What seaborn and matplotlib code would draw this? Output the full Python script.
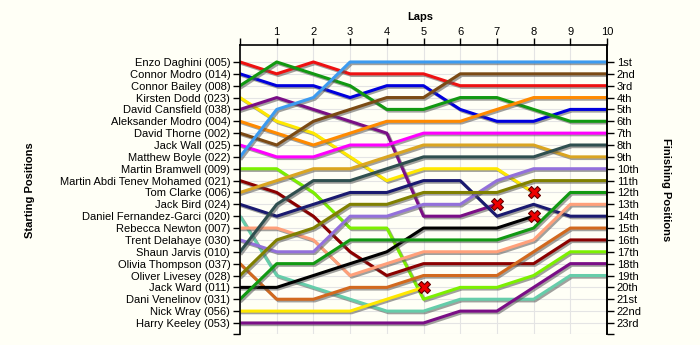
import matplotlib
matplotlib.use("Agg")
import matplotlib.pyplot as plt
import matplotlib.patheffects as pe
import numpy as np
import pandas as pd
import seaborn as sns

riders = ["Enzo Daghini (005)", "Connor Modro (014)", "Connor Bailey (008)",
          "Kirsten Dodd (023)", "David Cansfield (038)", "Aleksander Modro (004)",
          "David Thorne (002)", "Jack Wall (025)", "Matthew Boyle (022)",
          "Martin Bramwell (009)", "Martin Abdi Tenev Mohamed (021)", "Tom Clarke (006)",
          "Jack Bird (024)", "Daniel Fernandez-Garci (020)", "Rebecca Newton (007)",
          "Trent Delahaye (030)", "Shaun Jarvis (010)", "Olivia Thompson (037)",
          "Oliver Livesey (028)", "Jack Ward (011)", "Dani Venelinov (031)",
          "Nick Wray (056)", "Harry Keeley (053)"]

colors = ["#EE1111", "#0000DD", "#119911", "#FFE800", "#7A0E86", "#FF8A00",
          "#7B4A14", "#FF00FF", "#3C9BF0", "#7CF000", "#8B0000", "#DAA520",
          "#1A1A70", "#66CDAA", "#FFA07A", "#9370DB", "#2F4F4F", "#D2691E",
          "#808000", "#000000", "#119911", "#FFE800", "#7A0E86"]

laps = list(range(11))

pos_daghini   = [1, 2, 1, 2, 2, 2, 3, 3, 3, 3, 3]
pos_cmodro    = [2, 3, 3, 4, 3, 3, 5, 6, 6, 5, 5]
pos_bailey    = [3, 1, 2, 3, 5, 5, 4, 4, 5, 6, 6]
pos_dodd      = [4, 6, 7, 9, 11, 10, 10, 10, 12]
pos_cansfield = [5, 4, 5, 6, 7, 14, 14, 13]
pos_amodro    = [6, 7, 8, 7, 6, 6, 6, 5, 4, 4, 4]
pos_thorne    = [7, 8, 6, 5, 4, 4, 2, 2, 2, 2, 2]
pos_wall      = [8, 9, 9, 8, 8, 7, 7, 7, 7, 7, 7]
pos_boyle     = [9, 5, 4, 1, 1, 1, 1, 1, 1, 1, 1]
pos_bramwell  = [10, 10, 12, 15, 15, 21, 20, 20, 19, 17, 17]
pos_mohamed   = [11, 12, 14, 17, 19, 18, 18, 18, 18, 16, 16]
pos_clarke    = [12, 11, 10, 10, 9, 8, 8, 8, 8, 9, 9]
pos_bird      = [13, 14, 13, 12, 12, 11, 11, 14, 13, 14, 14]
pos_fernandez = [14, 19, 20, 21, 22, 22, 21, 21, 21, 19, 19]
pos_newton    = [15, 15, 16, 19, 18, 17, 17, 17, 16, 13, 13]
pos_delahaye  = [16, 17, 17, 14, 14, 13, 13, 11, 10, 10, 10]
pos_jarvis    = [17, 13, 11, 11, 10, 9, 9, 9, 9, 8, 8]
pos_thompson  = [18, 21, 21, 20, 20, 19, 19, 19, 17, 15, 15]
pos_livesey   = [19, 16, 15, 13, 13, 12, 12, 12, 11, 11, 11]
pos_ward      = [20, 20, 19, 18, 17, 15, 15, 15, 14]
pos_venelinov = [21, 18, 18, 16, 16, 16, 16, 16, 15, 12, 12]
pos_wray      = [22, 22, 22, 22, 21, 20]
pos_keeley    = [23, 23, 23, 23, 23, 23, 22, 22, 20, 18, 18]

positions = [pos_daghini, pos_cmodro, pos_bailey, pos_dodd, pos_cansfield,
             pos_amodro, pos_thorne, pos_wall, pos_boyle, pos_bramwell,
             pos_mohamed, pos_clarke, pos_bird, pos_fernandez, pos_newton,
             pos_delahaye, pos_jarvis, pos_thompson, pos_livesey, pos_ward,
             pos_venelinov, pos_wray, pos_keeley]

finish_labels = ["1st", "2nd", "3rd", "4th", "5th", "6th", "7th", "8th", "9th",
                 "10th", "11th", "12th", "13th", "14th", "15th", "16th", "17th",
                 "18th", "19th", "20th", "21st", "22nd", "23rd"]

rows = []
for r, p in zip(riders, positions):
    for lap, v in zip(laps, p):
        rows.append({"rider": r, "lap": lap, "pos": v})
df = pd.DataFrame(rows)

crash = pd.DataFrame([{"rider": r, "lap": len(p) - 1, "pos": p[-1]}
                      for r, p in zip(riders, positions) if len(p) < len(laps)])

bg = "#FFFFF6"
plt.rcParams["font.family"] = ["Liberation Sans", "DejaVu Sans"]
fig = plt.figure(figsize=(7, 3.45), dpi=100, facecolor=bg)
ax = fig.add_axes([240 / 700, 1 - 334 / 345, 367 / 700, 289 / 345])
ax.set_facecolor(bg)

sns.lineplot(data=df, x="lap", y="pos", hue="rider", hue_order=riders,
             palette=dict(zip(riders, colors)), sort=False, estimator=None,
             linewidth=2.2, legend=False, ax=ax)
for line in ax.get_lines():
    line.set_path_effects([pe.SimpleLineShadow(offset=(1.2, -1.2), shadow_color="#555555", alpha=0.55),
                           pe.Normal()])
    line.set_solid_joinstyle("round")

sns.scatterplot(data=crash, x="lap", y="pos", marker="X", s=75, color="#EE0000",
                edgecolor="#660000", linewidth=0.8, zorder=10, legend=False, ax=ax)

ax.set_xlim(0, 10)
ax.set_ylim(23.93, -0.43)
ax.xaxis.tick_top()
ax.set_xticks(laps)
ax.set_xticklabels([""] + [str(l) for l in laps[1:]])
ax.set_yticks(list(range(1, 24)) + [23.93])
ax.set_yticklabels(riders + [""])
ax.set_xlabel("")
ax.set_ylabel("")
ax.tick_params(axis="both", direction="out", length=5, width=1, labelsize=8, colors="black", pad=2)
ax.tick_params(axis="x", length=5, pad=1)
ax.grid(True, color="#E4E4E4", linewidth=0.8)
ax.set_axisbelow(True)
for s in ["top", "left", "right"]:
    ax.spines[s].set_color("black")
    ax.spines[s].set_linewidth(1.2)
ax.spines["bottom"].set_visible(False)

ax2 = ax.twinx()
ax2.set_ylim(ax.get_ylim())
ax2.set_yticks(list(range(1, 24)) + [23.93])
ax2.set_yticklabels(finish_labels + [""])
ax2.tick_params(axis="y", direction="out", length=5, width=1, labelsize=8, pad=2)
ax2.spines["right"].set_linewidth(1.2)
ax2.spines["bottom"].set_visible(False)
ax2.spines["top"].set_visible(False)
ax2.spines["left"].set_visible(False)

fig.text(420 / 700, 1 - 17 / 345, "Laps", ha="center", va="center", fontsize=8, fontweight="bold")
fig.text(30 / 700, 1 - 190 / 345, "Starting Positions", ha="center", va="center",
         rotation=90, fontsize=8, fontweight="bold")
fig.text(666 / 700, 1 - 190 / 345, "Finishing Positions", ha="center", va="center",
         rotation=270, fontsize=8, fontweight="bold")

fig.savefig("out.png", dpi=100, facecolor=bg)
